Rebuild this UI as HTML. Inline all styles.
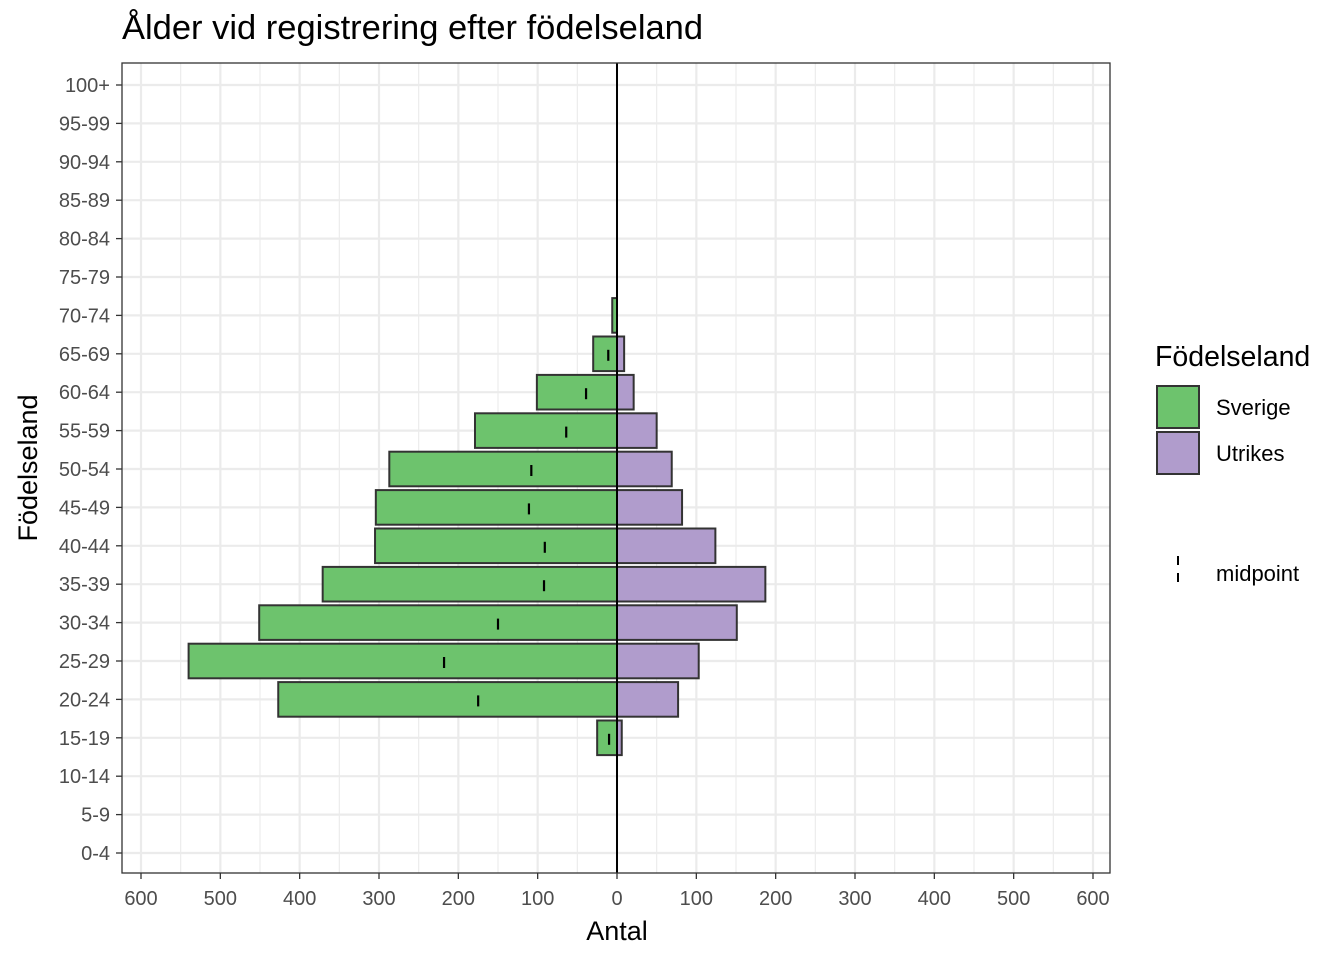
<!DOCTYPE html>
<html><head><meta charset="utf-8"><style>
body{margin:0;background:#fff;}
svg text{font-family:"Liberation Sans",Arial,sans-serif;}
</style></head><body>
<svg id="chart" width="1344" height="960" xmlns="http://www.w3.org/2000/svg">
<rect width="1344" height="960" fill="#fff"/>
<text x="122" y="39" font-size="34.5" fill="#000">Ålder vid registrering efter födelseland</text>
<g id="grid"></g>
<g id="bars"></g>
<g id="axes"></g>
<rect x="122" y="63" width="988" height="810" fill="none" stroke="#333" stroke-width="1.3"/>
<text x="617" y="940" font-size="27" text-anchor="middle">Antal</text>
<text transform="translate(37,468) rotate(-90)" font-size="27" text-anchor="middle">Födelseland</text>
<g>
<text x="1155" y="366" font-size="28.5">Födelseland</text>
<rect x="1157" y="386" width="42" height="42" fill="#6dc36d" stroke="#333" stroke-width="2"/>
<text x="1216" y="415" font-size="22">Sverige</text>
<rect x="1157" y="432" width="42" height="42" fill="#b09ccc" stroke="#333" stroke-width="2"/>
<text x="1216" y="461" font-size="22">Utrikes</text>
<line x1="1178" y1="556" x2="1178" y2="590" stroke="#000" stroke-width="2" stroke-dasharray="9,8"/>
<text x="1216" y="581" font-size="22">midpoint</text>
</g>
</svg>
<script>
const categories=["0-4","5-9","10-14","15-19","20-24","25-29","30-34","35-39","40-44","45-49","50-54","55-59","60-64","65-69","70-74","75-79","80-84","85-89","90-94","95-99","100+"];
const sverige=[0,0,0,25,427,540,451,371,305,304,287,179,101,30,6,0,0,0,0,0,0];
const utrikes=[0,0,0,6,77,103,151,187,124,82,69,50,21,9,0,0,0,0,0,0,0];
const midpoints=[null,null,null,-10,-175,-218,-150,-92,-91,-111,-108,-64,-39,-11,null,null,null,null,null,null,null];
const xTicks=[-600,-500,-400,-300,-200,-100,0,100,200,300,400,500,600];
const NS="http://www.w3.org/2000/svg";
const x0=617, pxPer=(617-141)/600;
const xs=v=>x0+v*pxPer;
const ys=i=>853-i*38.4;
const bw=34.6;
function mk(tag,attrs,parent){const e=document.createElementNS(NS,tag);for(const k in attrs)e.setAttribute(k,attrs[k]);document.getElementById(parent).appendChild(e);return e;}
for(let v=-650;v<=650;v+=50){const X=xs(v);if(X<122||X>1110)continue;const major=v%100===0;
const l=mk('line',{x1:X,x2:X,y1:63,y2:873,stroke:'#ebebeb','stroke-width':major?2.2:1.1},'grid');

}
categories.forEach((c,i)=>{const l=mk('line',{x1:122,x2:1110,y1:ys(i),y2:ys(i),stroke:'#ebebeb','stroke-width':2.2},'grid');

});
categories.forEach((c,i)=>{
 if(sverige[i]>0){const r=mk('rect',{x:xs(-sverige[i]),y:ys(i)-bw/2,width:xs(0)-xs(-sverige[i]),height:bw,fill:'#6dc36d',stroke:'#333','stroke-width':2},'bars');
 
 }
 if(utrikes[i]>0){const r=mk('rect',{x:xs(0),y:ys(i)-bw/2,width:xs(utrikes[i])-xs(0),height:bw,fill:'#b09ccc',stroke:'#333','stroke-width':2},'bars');
 
 }
});
const zl=mk('line',{x1:x0,x2:x0,y1:63,y2:873,stroke:'#000','stroke-width':2},'bars');


categories.forEach((c,i)=>{if(midpoints[i]===null)return;
 const m=mk('line',{x1:xs(midpoints[i]),x2:xs(midpoints[i]),y1:ys(i)-4,y2:ys(i)+7,stroke:'#000','stroke-width':2.2},'bars');
 
 });
categories.forEach((c,i)=>{
 const t=mk('line',{x1:116,x2:122,y1:ys(i),y2:ys(i),stroke:'#333','stroke-width':1.3},'axes');
 
 
 const tx=mk('text',{x:110,y:ys(i)+7,'font-size':20,'text-anchor':'end',fill:'#4d4d4d'},'axes');tx.textContent=c;
 
 });
xTicks.forEach(v=>{const X=xs(v);
 const t=mk('line',{x1:X,x2:X,y1:873,y2:879,stroke:'#333','stroke-width':1.3},'axes');
 
 
 const tx=mk('text',{x:X,y:905,'font-size':20,'text-anchor':'middle',fill:'#4d4d4d'},'axes');tx.textContent=Math.abs(v);
 
 });
</script>
</body></html>
